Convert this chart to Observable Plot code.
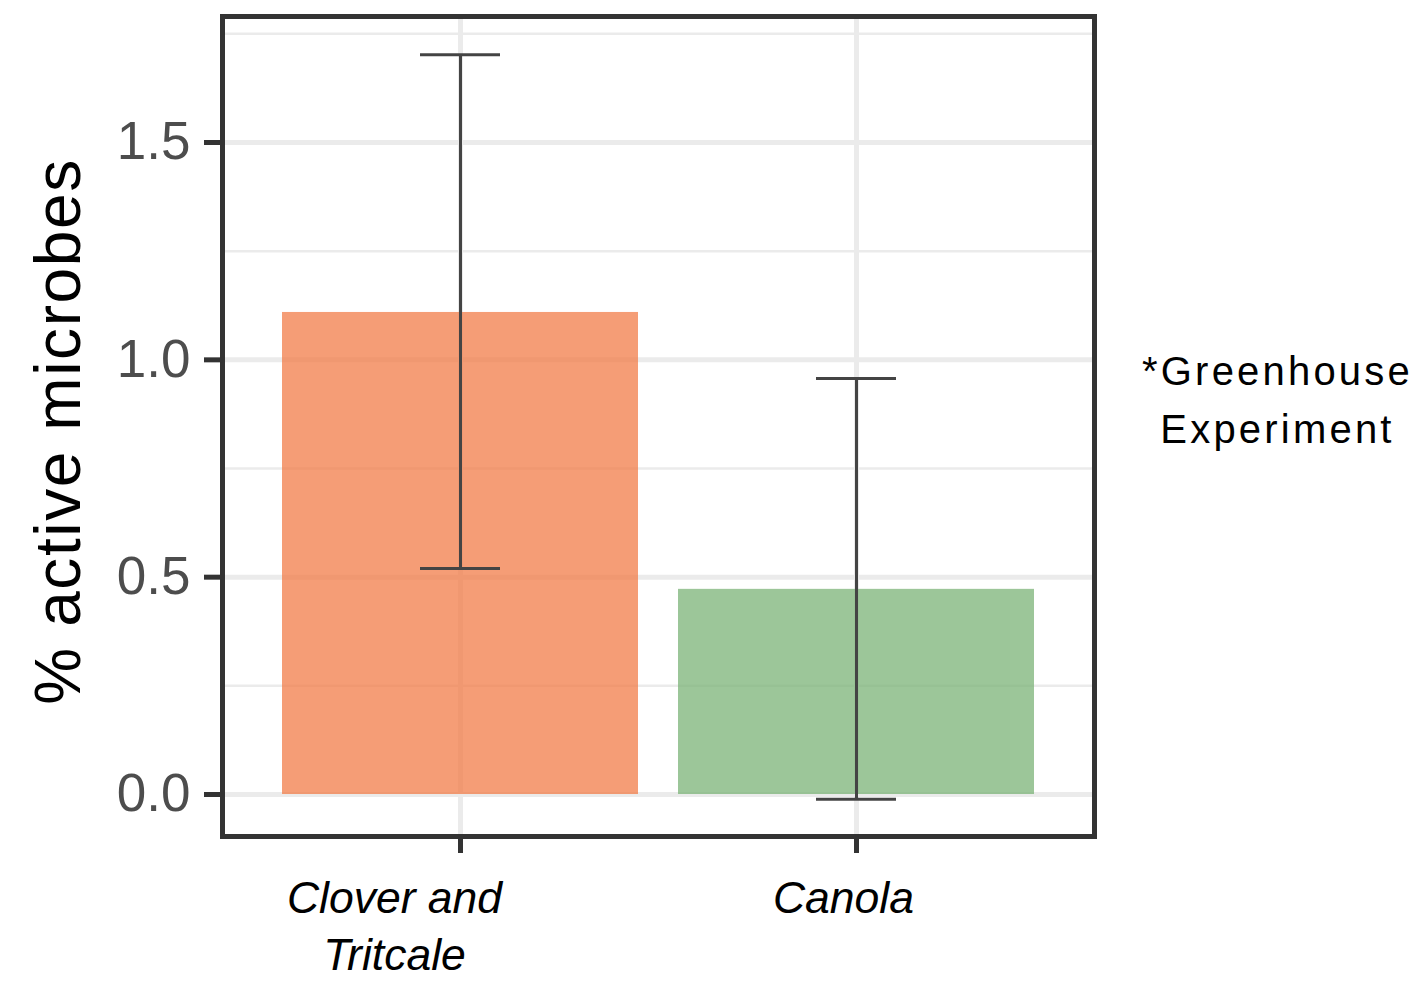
<!DOCTYPE html>
<html>
<head>
<meta charset="utf-8">
<script src="https://cdn.jsdelivr.net/npm/d3@7"></script>
<script src="https://cdn.jsdelivr.net/npm/@observablehq/plot@0.6"></script>
<style>
  html, body { margin: 0; padding: 0; background: white; }
</style>
</head>
<body>
<div id="chart"></div>
<script>
const categories = ["Clover and Tritcale", "Canola"];
const labels = ["Clover and\nTritcale", "Canola"];
const means = [1.109, 0.472];
const lower = [0.52, -0.011];
const upper = [1.702, 0.957];
const fills = ["#F27C48", "#7BB377"];
const yTicks = [0, 0.5, 1.0, 1.5];
const yMinor = [0.25, 0.75, 1.25, 1.75];
const yTitle = "% active microbes";
const note = "*Greenhouse\nExperiment";

const data = categories.map((c, i) => ({cat: c, label: labels[i], mean: means[i], lo: lower[i], hi: upper[i], fill: fills[i]}));

const font = "'Liberation Sans', Arial, sans-serif";

const svg = Plot.plot({
  width: 1415,
  height: 991,
  marginLeft: 222,
  marginRight: 321,
  marginTop: 16,
  marginBottom: 155,
  style: {fontFamily: font, background: "white", overflow: "visible"},
  x: {domain: categories, type: "band", paddingInner: 0.1, paddingOuter: 0.15, label: null},
  y: {domain: [-0.0966, 1.7899], label: null},
  marks: [
    Plot.gridY(yMinor, {stroke: "#EBEBEB", strokeOpacity: 1, strokeWidth: 2.5}),
    Plot.gridY(yTicks, {stroke: "#EBEBEB", strokeOpacity: 1, strokeWidth: 5}),
    Plot.gridX(categories, {stroke: "#EBEBEB", strokeOpacity: 1, strokeWidth: 5}),
    Plot.barY(data, {x: "cat", y: "mean", fill: "fill", fillOpacity: 0.75}),
    Plot.ruleX(data, {x: "cat", y1: "lo", y2: "hi", stroke: "#444", strokeWidth: 3}),
    Plot.tickY(data, {x: "cat", y: "lo", stroke: "#444", strokeWidth: 3, insetLeft: 138, insetRight: 138}),
    Plot.tickY(data, {x: "cat", y: "hi", stroke: "#444", strokeWidth: 3, insetLeft: 138, insetRight: 138}),
    Plot.frame({stroke: "#333", strokeWidth: 5}),
    Plot.axisY({ticks: yTicks, tickSize: 18, tickPadding: 14, tickFormat: d3.format(".1f"),
      fontSize: 53, fill: "#4D4D4D", stroke: "#333", strokeWidth: 5, label: null}),
    Plot.axisX({tickSize: 17, tickFormat: () => "", stroke: "#333", strokeWidth: 5, label: null}),
    Plot.text([data[0]], {x: "cat", text: "label", frameAnchor: "bottom", lineAnchor: "top", dy: 36, dx: -66,
      fontSize: 44.5, fontStyle: "italic", fill: "black", lineHeight: 1.28}),
    Plot.text([data[1]], {x: "cat", text: "label", frameAnchor: "bottom", lineAnchor: "top", dy: 36, dx: -13,
      fontSize: 44.5, fontStyle: "italic", fill: "black", lineHeight: 1.28}),
    Plot.text([yTitle], {text: d => d, frameAnchor: "left", textAnchor: "middle", rotate: -90, dx: -163, dy: 5,
      fontSize: 64, fill: "black", lineAnchor: "middle"}),
    Plot.text([note], {text: d => d, frameAnchor: "right", dx: 183, dy: -31, fontSize: 40, fill: "black",
      lineAnchor: "middle", textAnchor: "middle", lineHeight: 1.45})
  ]
});

const sel = d3.select(svg).selectAll("text");
sel.filter(function() { return this.textContent === yTitle; }).attr("letter-spacing", "1.6px");
sel.filter(function() { return this.textContent.includes("Greenhouse") || this.textContent.includes("Experiment"); })
  .attr("letter-spacing", "3.2px");

document.getElementById("chart").appendChild(svg);
</script>
</body>
</html>
